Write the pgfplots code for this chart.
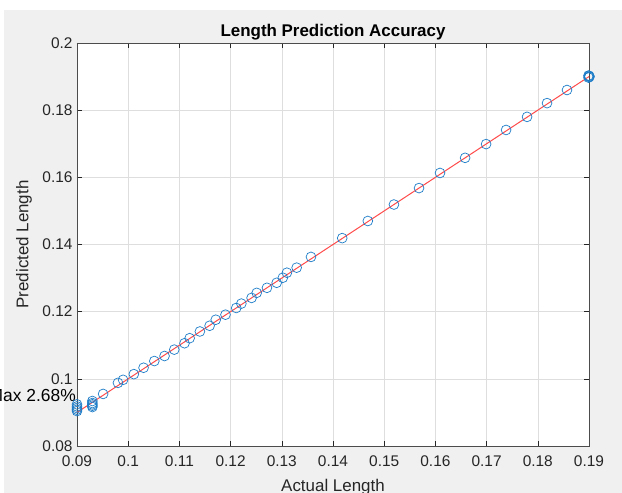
\documentclass[border=0pt]{standalone}
\usepackage{pgfplots}
\pgfplotsset{compat=1.18}
\usepackage{fontspec}
\setmainfont{Liberation Sans}
\definecolor{mblue}{RGB}{30,125,200}
\definecolor{mred}{RGB}{255,75,75}
\definecolor{figbg}{RGB}{240,240,240}
\definecolor{axcol}{RGB}{38,38,38}
\begin{document}
\begin{tikzpicture}[x=1bp,y=1bp]
\useasboundingbox (-77,-47) rectangle (545,446);
\fill[white] (-77,-47) rectangle (545,446);
\fill[figbg] (-73,-47) rectangle (545,436);
\begin{axis}[
  at={(0,0)}, anchor=south west,
  scale only axis, width=512bp, height=403bp,
  xmin=0.09, xmax=0.19, ymin=0.08, ymax=0.2,
  axis background/.style={fill=white},
  xtick={0.09,0.10,0.11,0.12,0.13,0.14,0.15,0.16,0.17,0.18,0.19},
  xticklabels={0.09,0.1,0.11,0.12,0.13,0.14,0.15,0.16,0.17,0.18,0.19},
  ytick={0.08,0.10,0.12,0.14,0.16,0.18,0.20},
  yticklabels={0.08,0.1,0.12,0.14,0.16,0.18,0.2},
  tick align=inside, major tick length=5bp,
  tick style={axcol, line width=0.5bp},
  axis line style={black!70, line width=0.6bp},
  grid=major, major grid style={black!13, line width=0.5bp},
  ticklabel style={font=\fontsize{15.5}{18}\selectfont, text=axcol},
  xticklabel style={yshift=-6bp},
  yticklabel style={xshift=-1bp},
  title={\bfseries Length Prediction Accuracy},
  title style={at={(axis description cs:0.5,1.0124)}, anchor=center, font=\fontsize{17}{20}\selectfont, text=black},
  xlabel={Actual Length},
  xlabel style={at={(axis description cs:0.5,-0.1010)}, anchor=center, font=\fontsize{17}{20}\selectfont, text=axcol},
  ylabel={Predicted Length},
  ylabel style={at={(axis description cs:-0.1035,0.5)}, anchor=center, font=\fontsize{17}{20}\selectfont, text=axcol},
  clip=false,
]
\addplot[mred, line width=1bp, no marks] coordinates {(0.09,0.09) (0.19,0.19)};
\addplot[only marks, mark=o, mark size=4.9bp, mark options={mblue, line width=0.7bp}] table {
x y
0.0900 0.0904
0.0900 0.0908
0.0900 0.0913
0.0900 0.0918
0.0900 0.0924
0.0930 0.0916
0.0930 0.0920
0.0930 0.0924
0.0930 0.0928
0.0930 0.0934
0.0951 0.0955
0.0980 0.0988
0.0990 0.0997
0.1011 0.1014
0.1030 0.1033
0.1051 0.1053
0.1071 0.1068
0.1090 0.1087
0.1110 0.1106
0.1120 0.1121
0.1140 0.1141
0.1159 0.1158
0.1171 0.1176
0.1190 0.1191
0.1211 0.1211
0.1221 0.1224
0.1241 0.1241
0.1251 0.1256
0.1271 0.1271
0.1290 0.1286
0.1302 0.1301
0.1310 0.1316
0.1329 0.1331
0.1357 0.1363
0.1418 0.1419
0.1468 0.1470
0.1519 0.1519
0.1568 0.1568
0.1609 0.1613
0.1658 0.1658
0.1699 0.1699
0.1738 0.1741
0.1779 0.1780
0.1818 0.1821
0.1857 0.1860
0.1899 0.1897
0.1900 0.1899
0.1901 0.1900
0.1900 0.1902
0.1899 0.1903
};
\node[anchor=east, font=\fontsize{17.5}{20}\selectfont, text=black, inner sep=0pt] at (axis cs:0.0898,0.0949) {Max 2.68\%};
\end{axis}
\end{tikzpicture}
\end{document}
